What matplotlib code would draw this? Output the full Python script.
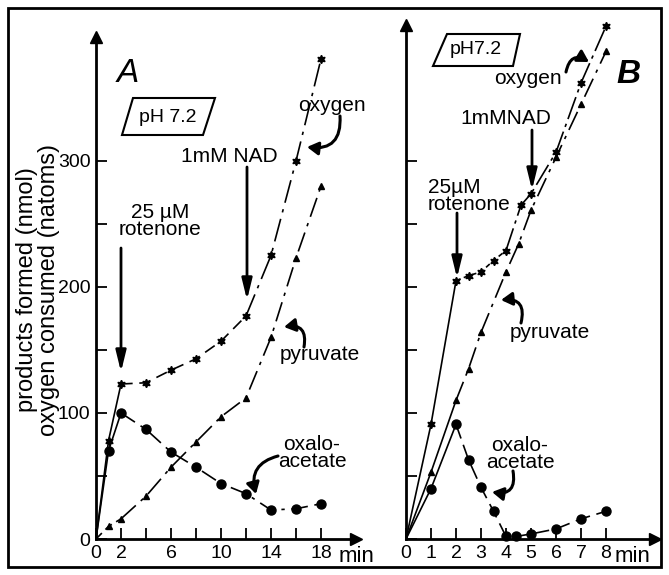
import matplotlib
matplotlib.use("Agg")
import matplotlib.pyplot as plt
from matplotlib.patches import Polygon, Rectangle, FancyArrowPatch

plt.rcParams['font.family'] = ['Liberation Sans', 'DejaVu Sans']

W, H = 669, 575

# panel A data (min, nmol / natoms)
tA = [0, 1, 2, 4, 6, 8, 10, 12, 14, 16, 18]
oxyA = [0, 78, 123, 124, 134, 143, 157, 177, 225, 300, 381]
pyrA = [0, 10, 16, 34, 57, 77, 97, 112, 160, 223, 280]
oaaA = [0, 70, 100, 87, 69, 57, 44, 36, 23, 24, 28]

# panel B data
tB_oxy = [0, 1, 2, 2.5, 3, 3.5, 4, 4.6, 5, 6, 7, 8]
oxyB = [0, 91, 205, 209, 212, 221, 229, 265, 274, 307, 362, 407]
tB_pyr = [0, 1, 2, 2.5, 3, 4, 4.5, 5, 6, 7, 8]
pyrB = [0, 53, 110, 135, 164, 212, 234, 261, 303, 345, 387]
tB_oaa = [0, 1, 2, 2.5, 3, 3.5, 4, 4.4, 5, 6, 7, 8]
oaaB = [0, 40, 91, 63, 41, 22, 2, 2, 4, 8, 16, 22]

xticksA = [0, 2, 4, 6, 8, 10, 12, 14, 16, 18]
xlabelsA = ['0', '2', '', '6', '', '10', '', '14', '', '18']
xticksB = [0, 1, 2, 3, 4, 5, 6, 7, 8]
xlabelsB = ['0', '1', '2', '3', '4', '5', '6', '7', '8']
yticks = [0, 50, 100, 150, 200, 250, 300]
ylabelsA = ['0', '', '100', '', '200', '', '300']

STAR = (6, 1, 0)


def F(x, y):
    # reference pixel (top-down) -> figure fraction
    return (x / W, 1 - y / H)


def draw_series(ax, t, v, pieces, marker, ms):
    for i0, i1, ls in pieces:
        ax.plot(t[i0:i1 + 1], v[i0:i1 + 1], color='k', lw=1.2, linestyle=ls,
                clip_on=False)
    ax.plot(t[1:], v[1:], linestyle='none', marker=marker, ms=ms, color='k',
            clip_on=False)


def style_axis(ax):
    for s in ['top', 'right']:
        ax.spines[s].set_visible(False)
    for s in ['left', 'bottom']:
        ax.spines[s].set_linewidth(2)
    ax.plot(1, 0, '>k', ms=9, transform=ax.transAxes, clip_on=False)
    ax.plot(0, 1, '^k', ms=8, transform=ax.transAxes, clip_on=False)
    ax.tick_params(direction='in', length=8, width=1.3, labelsize=14, pad=4)
    ax.set_yticks(yticks)


def arrow(p0, p1, style, lw, scale, conn='arc3,rad=0'):
    fig.add_artist(FancyArrowPatch(F(*p0), F(*p1), transform=fig.transFigure,
                                   arrowstyle=style, lw=lw, color='k',
                                   shrinkA=0, shrinkB=0, mutation_scale=scale,
                                   connectionstyle=conn))


fig = plt.figure(figsize=(W / 100, H / 100), dpi=100)

axA = fig.add_axes([96 / W, 36 / H, 260 / W, 502 / H])
axA.set_xlim(0, 20.8)
axA.set_ylim(0, 398.4)
style_axis(axA)
axA.set_xticks(xticksA, xlabelsA)
axA.set_yticklabels(ylabelsA)

draw_series(axA, tA, oxyA, [(0, 2, '-'), (2, 7, (0, (7, 4))), (7, 10, (0, (14, 4, 2, 4)))], STAR, 6)
draw_series(axA, tA, pyrA, [(0, 2, (0, (5, 3))), (2, 10, (0, (12, 4, 2, 4)))], '^', 5)
draw_series(axA, tA, oaaA, [(0, 2, '-'), (2, 10, (0, (10, 4, 2, 4)))], 'o', 6.5)

axB = fig.add_axes([406 / W, 36 / H, 249 / W, 514 / H])
axB.set_xlim(0, 9.96)
axB.set_ylim(0, 408)
style_axis(axB)
axB.set_xticks(xticksB, xlabelsB)
axB.set_yticklabels([])

draw_series(axB, tB_oxy, oxyB, [(0, 2, '-'), (2, 6, (0, (3, 2))), (6, 11, (0, (14, 3, 2, 3)))], STAR, 6)
draw_series(axB, tB_pyr, pyrB, [(0, 2, '-'), (2, 10, (0, (12, 4, 2, 4)))], '^', 5)
draw_series(axB, tB_oaa, oaaB, [(0, 2, '-'), (2, 11, (0, (9, 4)))], 'o', 6.5)

# outer frame
fig.add_artist(Rectangle(F(8, 567), 653 / W, 559 / H, transform=fig.transFigure,
                         fill=False, lw=2, color='k'))

# y label
fig.text(*F(38, 290), 'products formed (nmol)\noxygen consumed (natoms)',
         rotation=90, ha='center', va='center', fontsize=17, linespacing=0.95)

# "min" labels
fig.text(*F(356, 557), 'min', ha='center', va='center', fontsize=16)
fig.text(*F(633, 557), 'min', ha='center', va='center', fontsize=16)

# panel letters
fig.text(*F(128, 73), 'A', ha='center', va='center', fontsize=24, style='italic')
fig.text(*F(628, 74), 'B', ha='center', va='center', fontsize=24, style='italic',
         weight='bold')

# pH boxes
for pts, lab, c in [([(122, 135), (133, 98), (215, 98), (203, 135)], 'pH 7.2', (168, 117)),
                    ([(433, 66), (447, 34), (520, 34), (513, 66)], 'pH7.2', (476, 50))]:
    fig.add_artist(Polygon([F(x, y) for x, y in pts], closed=True, fill=False,
                           lw=1.5, color='k', transform=fig.transFigure))
    fig.text(*F(*c), lab, ha='center', va='center', fontsize=14)

# text labels
labels = [
    ('oxygen', (332, 105)),
    ('1mM NAD', (229, 156)),
    ('25 µM\nrotenone', (160, 221)),
    ('pyruvate', (320, 355)),
    ('oxalo-\nacetate', (312, 453)),
    ('oxygen', (528, 78)),
    ('1mMNAD', (506, 119)),
    ('pyruvate', (550, 333)),
    ('oxalo-\nacetate', (520, 454)),
]
for s, (x, y) in labels:
    fig.text(*F(x, y), s, ha='center', va='center', fontsize=15, linespacing=0.9,
             multialignment='center')
fig.text(*F(428, 196), '25µM\nrotenone', ha='left', va='center', fontsize=15,
         linespacing=0.9)

# straight arrows
for p0, p1 in [((247, 167), (247, 300)), ((121, 248), (121, 372)),
               ((532, 130), (532, 190)), ((457, 213), (457, 278))]:
    arrow(p0, p1, '-|>,head_length=0.9,head_width=0.22', 2, 14)

# curved arrows
for p0, p1, rad in [((340, 116), (307, 147), -0.6),
                    ((304, 347), (284, 327), 0.7),
                    ((278, 456), (256, 494), 0.5),
                    ((566, 72), (589, 62), -0.7),
                    ((521, 323), (501, 300), 0.7),
                    ((513, 471), (492, 492), -0.7)]:
    arrow(p0, p1, '-|>,head_length=0.6,head_width=0.35', 2.2, 11,
          'arc3,rad=%s' % rad)

fig.savefig('out.png', dpi=100)
